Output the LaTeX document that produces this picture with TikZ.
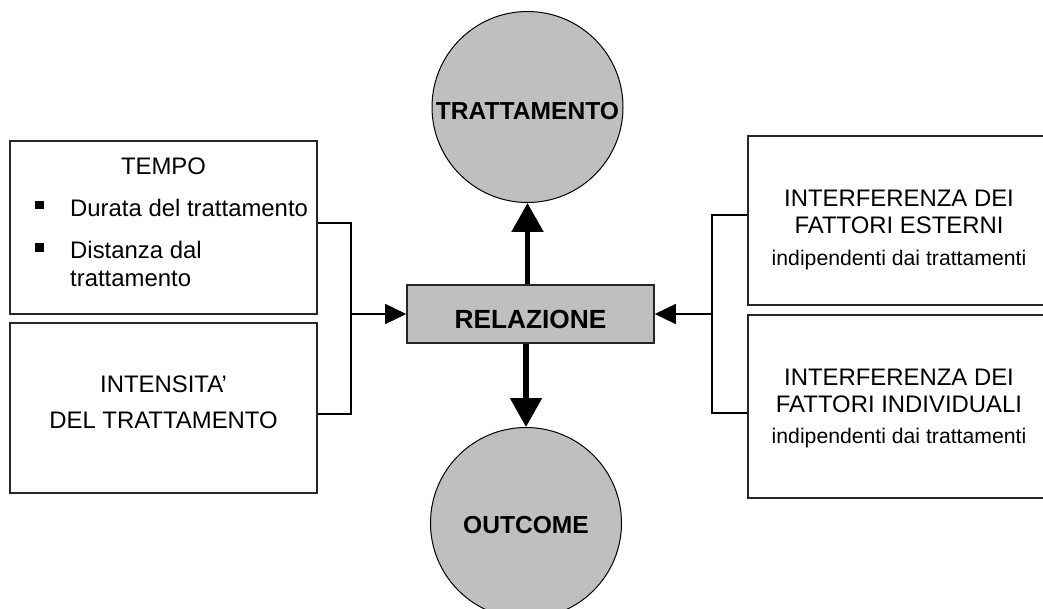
\documentclass[tikz,border=0pt]{standalone}
\usepackage{fontspec}
\setmainfont{Liberation Sans}
\usetikzlibrary{arrows.meta}
\tikzset{
  panel/.style={draw=black!85, line width=1.6pt, fill=white, inner sep=0pt},
  disc/.style={circle, draw=black, line width=1pt, fill=black!25, minimum size=191pt, inner sep=0pt},
  centerbox/.style={draw=black!85, line width=1.6pt, fill=black!25, inner sep=0pt, minimum width=247pt, minimum height=58pt},
  txt/.style={inner sep=0pt, anchor=base, font=\fontsize{23.9}{28}\selectfont},
  txtw/.style={txt, anchor=base west},
  small/.style={inner sep=0pt, anchor=base, font=\fontsize{21.2}{25}\selectfont},
  bold/.style={inner sep=0pt, anchor=base, font=\fontsize{24.6}{29}\selectfont\bfseries},
  bsq/.style={fill=black, inner sep=0pt, minimum size=8.5pt},
  link/.style={line width=1.6pt, black},
  thinarrow/.style={link, -{Triangle[length=21pt, width=20pt]}},
  thickarrow/.style={line width=5.5pt, black, -{Triangle[length=29pt, width=31pt]}}
}
\begin{document}
\begin{tikzpicture}[x=1pt, y=-1pt]
\clip (0,0) rectangle (1043,609);
\fill[white] (0,0) rectangle (1043,609);

% circles
\node[disc] (trat) at (527.5,107) {};
\node[bold] (trattxt) at (527.5,120) {TRATTAMENTO};
\node[disc] (out) at (526,523) {};
\node[bold] (outtxt) at (526,533) {OUTCOME};

% central box
\node[centerbox] (rel) at (530.5,314) {};
\node[bold, font=\fontsize{26.3}{31}\selectfont\bfseries] (reltxt) at (530.5,328) {RELAZIONE};

% left boxes
\node[panel, minimum width=307pt, minimum height=173pt] (tempo) at (163.5,227.5) {};
\node[panel, minimum width=307pt, minimum height=170pt] (inten) at (163.5,408) {};

\node[txt] (t1) at (163.5,175) {TEMPO};
\node[bsq] (b1) at (39.5,205) {};
\node[txtw] (t2) at (70,217) {Durata del trattamento};
\node[bsq] (b2) at (39.5,247.5) {};
\node[txtw] (t3) at (70,259) {Distanza dal};
\node[txtw] (t4) at (70,287) {trattamento};

\node[txt] (i1) at (163.5,392) {INTENSITA’};
\node[txt] (i2) at (163.5,428) {DEL TRATTAMENTO};

% right boxes
\node[panel, minimum width=302pt, minimum height=169pt] (est) at (899,220.5) {};
\node[panel, minimum width=302pt, minimum height=183pt] (ind) at (899,406.5) {};

\node[txt] (e1) at (899,207) {INTERFERENZA DEI};
\node[txt] (e2) at (899,233.5) {FATTORI ESTERNI};
\node[small] (e3) at (899,266) {indipendenti dai trattamenti};

\node[txt] (d1) at (899,385) {INTERFERENZA DEI};
\node[txt] (d2) at (899,412) {FATTORI INDIVIDUALI};
\node[small] (d3) at (899,443.5) {indipendenti dai trattamenti};

% left bracket
\coordinate (lt) at (351,223);
\coordinate (lb) at (351,414);
\coordinate (lm) at (351,314);
\draw[link] (tempo.east |- lt) -- (lt) -- (lb) -- (inten.east |- lb);
\draw[thinarrow] (lm) -- (rel.west);

% right bracket
\coordinate (rt) at (712,215);
\coordinate (rb) at (712,413);
\coordinate (rm) at (712,314);
\draw[link] (est.west |- rt) -- (rt) -- (rb) -- (ind.west |- rb);
\draw[thinarrow] (rm) -- (rel.east);

% thick arrows
\draw[thickarrow] (rel.north -| trat.south) -- (trat.south);
\draw[thickarrow] (rel.south -| out.north) -- (out.north);
\end{tikzpicture}
\end{document}
